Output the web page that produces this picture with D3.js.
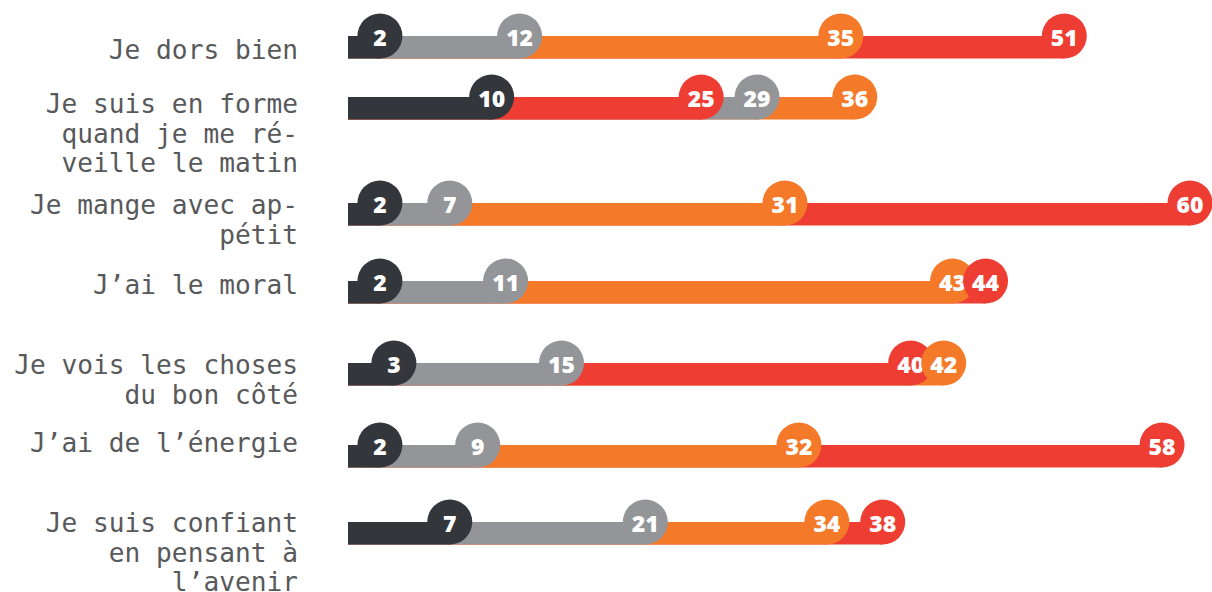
<!DOCTYPE html>
<html>
<head>
<meta charset="utf-8">
<script src="https://cdn.jsdelivr.net/npm/d3@7"></script>
<style>
  html, body { margin: 0; padding: 0; background: #fff; }
  svg { display: block; }
</style>
</head>
<body>
<svg id="chart" width="1212" height="592"></svg>
<script>
// Statements (each label line separated by "|")
const categories = [
  "Je dors bien",
  "Je suis en forme|quand je me ré-|veille le matin",
  "Je mange avec ap-|pétit",
  "J’ai le moral",
  "Je vois les choses|du bon côté",
  "J’ai de l’énergie",
  "Je suis confiant|en pensant à|l’avenir"
];

// Four answer groups, in percent
const darkValues   = [2, 10, 2, 2, 3, 2, 7];
const greyValues   = [12, 29, 7, 11, 15, 9, 21];
const orangeValues = [35, 36, 31, 43, 42, 32, 34];
const redValues    = [51, 25, 60, 44, 40, 58, 38];

const seriesNames = ["dark", "grey", "orange", "red"];

// Layout
const colors = { dark: "#33363b", grey: "#939598", orange: "#f47a29", red: "#ee3e33" };
const rowCenters = [36, 97, 203, 281, 363, 445, 522];
const labelOffsets = [14, 7, 2, 4, 2, -2, 1];
const radius = 22.5;
const minCapGap = 33;      // caps closer than this get nudged apart
const barStart = 348;
const labelRight = 298;
const lineHeight = 29.5;

const svg = d3.select("#chart");
const x = d3.scaleLinear().domain([0, 60]).range([352, 1190]);

const seriesValues = { dark: darkValues, grey: greyValues, orange: orangeValues, red: redValues };

const rows = categories.map((c, i) => {
  const items = seriesNames.map(s => ({ series: s, value: seriesValues[s][i] }))
    .sort((a, b) => a.value - b.value);
  // position caps along the scale, pushing a crowded cap slightly to the right
  let prev = -Infinity;
  items.forEach(d => {
    d.px = Math.max(x(d.value), prev + minCapGap);
    prev = d.px;
  });
  return {
    label: c.split("|"),
    cy: rowCenters[i],
    ly: rowCenters[i] + labelOffsets[i],
    items
  };
});

// Category labels
const labels = svg.append("g").selectAll("text").data(rows).join("text")
  .attr("x", labelRight)
  .attr("y", d => d.ly)
  .attr("text-anchor", "end")
  .attr("font-family", "'DejaVu Sans Mono', monospace")
  .attr("font-size", 26.2)
  .attr("fill", "#58595b");
labels.selectAll("tspan").data(d => d.label.map((t, k) => ({ t, k, y: d.ly })))
  .join("tspan")
  .attr("x", labelRight)
  .attr("y", d => d.y + d.k * lineHeight)
  .attr("dominant-baseline", "central")
  .text(d => d.t);

const rowG = svg.append("g").selectAll("g").data(rows).join("g");

rowG.each(function(row) {
  const g = d3.select(this);
  // Bars: longest first so shorter ones sit on top
  const bars = row.items.slice().sort((a, b) => b.value - a.value);
  g.append("g").selectAll("rect").data(bars).join("rect")
    .attr("x", barStart)
    .attr("y", row.cy)
    .attr("width", d => d.px - barStart)
    .attr("height", radius)
    .attr("fill", d => colors[d.series]);

  // End caps with value labels: smallest first
  const cap = g.append("g").selectAll("g").data(row.items).join("g")
    .attr("transform", d => `translate(${d.px},${row.cy})`);
  cap.append("circle")
    .attr("r", radius)
    .attr("fill", d => colors[d.series]);
  cap.append("text")
    .attr("text-anchor", "middle")
    .attr("dominant-baseline", "central")
    .attr("y", 1)
    .attr("font-family", "'Open Sans', sans-serif")
    .attr("font-weight", 800)
    .attr("font-size", 23)
    .attr("fill", "#fff")
    .text(d => d.value);
});
</script>
</body>
</html>
